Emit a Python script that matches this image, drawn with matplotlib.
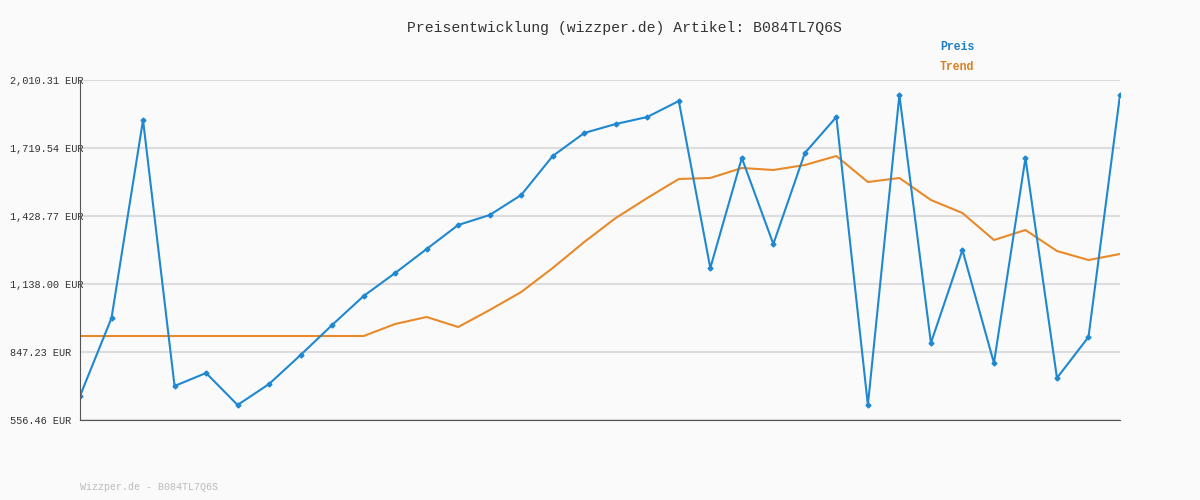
import matplotlib.pyplot as plt

preis = [659.1, 992.6, 1839.3, 701.8, 757.4, 620.6, 710.4, 834.4, 962.7, 1086.7,
         1185.0, 1287.7, 1390.3, 1433.0, 1518.6, 1685.3, 1783.7, 1822.2, 1852.1, 1920.5,
         1206.4, 1676.8, 1309.0, 1698.2, 1852.1, 620.6, 1946.2, 885.7, 1283.4, 800.2,
         1676.8, 736.1, 911.4, 1946.2]
trend = [915.6] * 10 + [967.0, 996.9, 954.1, 1026.8, 1103.8, 1206.4, 1317.6, 1420.2,
         1505.7, 1587.0, 1591.3, 1634.0, 1625.5, 1646.8, 1685.3, 1574.1, 1591.3,
         1497.2, 1441.6, 1326.1, 1368.9, 1279.1, 1240.6, 1266.3]
yticks = [556.46, 847.23, 1138.00, 1428.77, 1719.54, 2010.31]
ylabels = ["556.46 EUR", "847.23 EUR", "1,138.00 EUR", "1,428.77 EUR", "1,719.54 EUR", "2,010.31 EUR"]

plt.rcParams['font.family'] = ['Liberation Mono', 'DejaVu Sans Mono']
fig = plt.figure(figsize=(12, 5), dpi=100, facecolor="#fafafa")
ax = fig.add_axes([80/1200, 80/500, 1040/1200, 340/500], facecolor="#fafafa")
x = range(len(preis))
ax.plot(x, trend, color="#e8892a", lw=1.5)
ax.plot(x, preis, color="#1f88d0", lw=1.5, marker="D", ms=2.5)
ax.set_xlim(0, len(preis) - 1)
ax.set_ylim(556.46, 2010.31)
ax.set_xticks([])
ax.set_yticks(yticks)
ax.set_yticklabels(ylabels, fontsize=7.4, color="#333333")
ax.tick_params(axis="y", length=0, pad=0)
for lab in ax.get_yticklabels():
    lab.set_horizontalalignment("left")
    lab.set_x(-70/1040)
ax.grid(axis="y", color="#dddddd", lw=1.5)
for s in ["top", "right"]:
    ax.spines[s].set_visible(False)
ax.spines["left"].set_color("#555555")
ax.spines["bottom"].set_color("#555555")
fig.text(0.52, 1 - 28/500, "Preisentwicklung (wizzper.de) Artikel: B084TL7Q6S",
         ha="center", va="center", fontsize=10.6, color="#333333")
fig.text(940/1200, 1 - 47/500, "Preis", color="#1f7fc0", fontsize=8.3, fontweight="bold", va="center")
fig.text(940/1200, 1 - 67/500, "Trend", color="#d98020", fontsize=8.3, fontweight="bold", va="center")
fig.text(80/1200, 1 - 487/500, "Wizzper.de - B084TL7Q6S", color="#bbbbbb", fontsize=7.2, va="center")
fig.savefig("out.png", facecolor=fig.get_facecolor())
